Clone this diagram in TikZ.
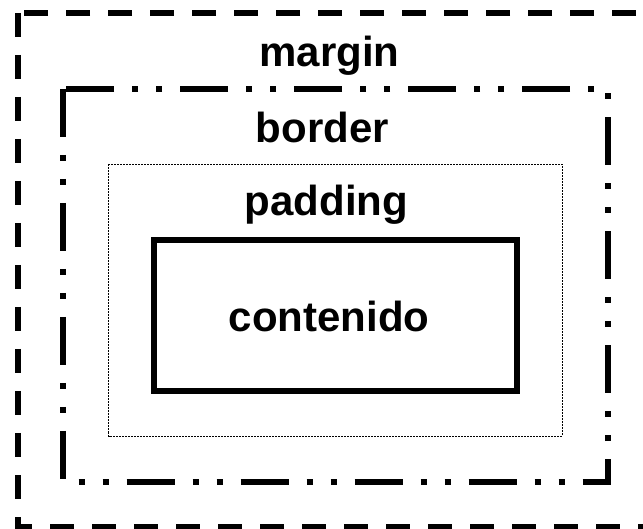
\documentclass[tikz,border=0pt]{standalone}
\usepackage{fontspec}
\setmainfont{Liberation Sans}
\tikzset{
	marginline/.style={line width=6pt, dash pattern=on 24pt off 18pt},
	borderline/.style={line width=6pt, dash pattern=on 48pt off 18pt on 6pt off 18pt on 6pt off 18pt},
	paddingline/.style={line width=0.8pt, dash pattern=on 2pt off 1pt},
	contentline/.style={line width=6pt},
	lbl/.style={font=\bfseries\fontsize{42}{50}\selectfont, anchor=base, inner sep=0pt}
}
\begin{document}
\begin{tikzpicture}[x=1pt, y=-1pt]
	\useasboundingbox (0,0) rectangle (643,529);
	\clip (0,0) rectangle (643,529);
	% cajas, de fuera hacia dentro
	\draw[marginline] (18,13) -- (18,527) -- (653,527) -- (653,13) -- cycle;
	\draw[borderline] (63,89) -- (63,481.5) -- (608,481.5) -- (608,89) -- cycle;
	\draw[paddingline] (108.5,164.5) rectangle (562,436);
	\draw[contentline] (154,240) rectangle (517,391);
	% etiquetas
	\node[lbl] (margin) at (329.5,67) {margin};
	\node[lbl] (border) at (322.5,143) {border};
	\node[lbl] (padding) at (326.5,216) {padding};
	\node[lbl] (contenido) at (329,332) {contenido};
\end{tikzpicture}
\end{document}
